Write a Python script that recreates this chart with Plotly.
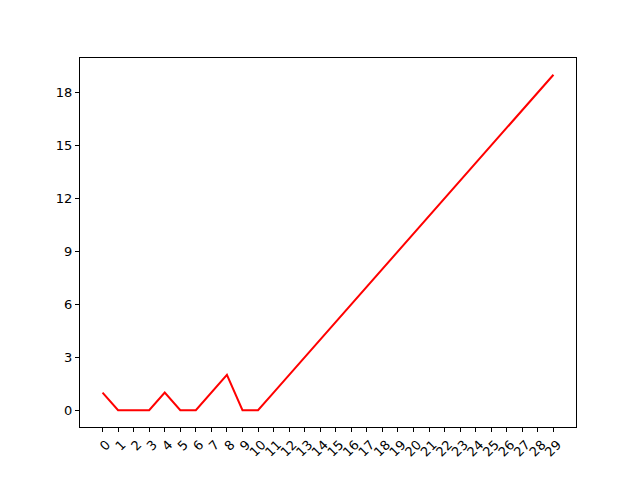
import plotly.graph_objects as go

x_vals = list(range(30))
y_vals = [1, 0, 0, 0, 1, 0, 0, 1, 2, 0, 0, 1, 2, 3, 4, 5, 6, 7, 8, 9,
          10, 11, 12, 13, 14, 15, 16, 17, 18, 19]
x_tick_labels = [str(v) for v in x_vals]
y_ticks = [0, 3, 6, 9, 12, 15, 18]

fig = go.Figure()
fig.add_trace(go.Scatter(x=x_vals, y=y_vals, mode="lines",
                         line=dict(color="red", width=2)))

axis_common = dict(showline=True, linecolor="black", linewidth=1, mirror=True,
                   ticks="outside", ticklen=4, tickwidth=1, tickcolor="black",
                   showgrid=False, zeroline=False,
                   tickfont=dict(family="DejaVu Sans", size=13, color="black"))

fig.update_layout(
    width=632, height=472,
    margin=dict(l=72, r=64, t=50, b=53, autoexpand=False),
    paper_bgcolor="white", plot_bgcolor="white",
    showlegend=False,
    xaxis=dict(range=[-1.45, 30.45], tickvals=x_vals, ticktext=x_tick_labels,
               tickangle=-45, ticklabelshift=4, **axis_common),
    yaxis=dict(range=[-0.95, 19.95], tickvals=y_ticks,
               ticktext=[str(v) for v in y_ticks], **axis_common),
)

fig.write_html("out.html")
